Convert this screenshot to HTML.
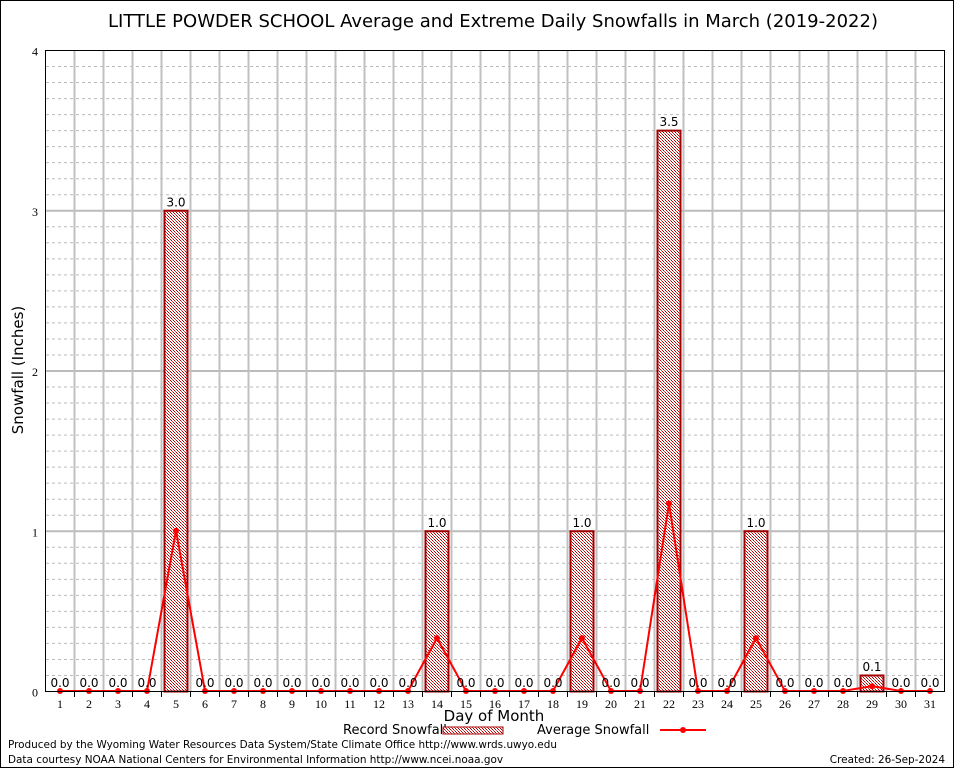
<!DOCTYPE html>
<html><head><meta charset="utf-8"><style>
body{margin:0;background:#fff}
svg{display:block}
text{font-family:"DejaVu Sans","Liberation Sans",sans-serif}
.tk{font-family:"Liberation Serif",serif;font-size:12px}
</style></head><body>
<svg id="c" width="954" height="768">
<defs><pattern id="chk" width="3" height="3" patternUnits="userSpaceOnUse"><rect width="3" height="3" fill="#fff"/><rect width="1" height="1" fill="#b00000"/><rect x="1" y="1" width="1" height="1" fill="#e04040"/><rect x="2" y="2" width="1" height="1" fill="#b00000"/></pattern></defs>
<rect x="0.5" y="0.5" width="953" height="767" fill="#fff" stroke="#000"/>
<text x="493" y="27" font-size="18" text-anchor="middle">LITTLE POWDER SCHOOL Average and Extreme Daily Snowfalls in March (2019-2022)</text>
<g id="grid"></g><g id="bars"></g><g id="avg"></g><g id="labels"></g>
<rect x="45.5" y="50.5" width="899" height="641" fill="none" stroke="#000"/>
<text transform="translate(23,370) rotate(-90)" font-size="15" text-anchor="middle">Snowfall (Inches)</text>
<text x="494" y="721" font-size="15" text-anchor="middle">Day of Month</text>
<g><text x="343" y="734" font-size="13">Record Snowfall</text><rect x="443" y="727" width="60" height="7" fill="url(#chk)" stroke="#a00000"/></g>
<g><text x="537" y="734" font-size="13">Average Snowfall</text><line x1="660" y1="730" x2="706" y2="730" stroke="#f00" stroke-width="2"/><circle cx="683" cy="730" r="3" fill="#f00"/></g>
<text x="8" y="748" font-size="10.45">Produced by the Wyoming Water Resources Data System/State Climate Office http://www.wrds.uwyo.edu</text>
<text x="8" y="763" font-size="10.45">Data courtesy NOAA National Centers for Environmental Information http://www.ncei.noaa.gov</text>
<text x="945" y="763" font-size="10.45" text-anchor="end">Created: 26-Sep-2024</text>
</svg>
<script>
const days=[1,2,3,4,5,6,7,8,9,10,11,12,13,14,15,16,17,18,19,20,21,22,23,24,25,26,27,28,29,30,31];
const recordVals=[0,0,0,0,3.0,0,0,0,0,0,0,0,0,1.0,0,0,0,0,1.0,0,0,3.5,0,0,1.0,0,0,0,0.1,0,0];
const avgVals=[0,0,0,0,1.0,0,0,0,0,0,0,0,0,0.33,0,0,0,0,0.33,0,0,1.17,0,0,0.33,0,0,0,0.03,0,0];
const yTicks=[0,1,2,3,4];
const NS='http://www.w3.org/2000/svg';
const X=d=>60+(d-1)*29, Y=v=>691-v*160.25;
function mk(p,t,a){const e=document.createElementNS(NS,t);for(const k in a)e.setAttribute(k,a[k]);p.appendChild(e);return e;}
const g=document.getElementById('grid');
for(let i=1;i<40;i++){if(i%10===0)continue;const y=Y(i/10)+0.5;const l=mk(g,'line',{x1:46,x2:944,y1:y,y2:y,stroke:'#bbb','stroke-dasharray':'3,3'});

}
yTicks.forEach(v=>{const y=Y(v)+0.5;if(v>0&&v<4){const l=mk(g,'line',{x1:46,x2:944,y1:y,y2:y,stroke:'#bbb','stroke-width':2});

}
const t=mk(g,'text',{x:38,y:y+5,'text-anchor':'end',class:'tk'});t.textContent=v;

});
for(let d=1;d<days.length;d++){const x=X(d)+14.5;const l=mk(g,'line',{x1:x,x2:x,y1:51,y2:691,stroke:'#c0c0c0','stroke-width':2});


const tk=mk(g,'line',{x1:x,x2:x,y1:691,y2:697,stroke:'#000'});

}
days.forEach(d=>{const t=mk(g,'text',{x:X(d),y:708,'text-anchor':'middle',class:'tk'});t.textContent=d;

});
const b=document.getElementById('bars'),lb=document.getElementById('labels');
days.forEach((d,i)=>{const v=recordVals[i];
if(v>0){const r=mk(b,'rect',{x:X(d)-11.5,y:Y(v)+0.5,width:23,height:Y(0)-Y(v),fill:'url(#chk)',stroke:'#a00000','stroke-width':2});

}
const t=mk(lb,'text',{x:X(d),y:Y(v)-4,'text-anchor':'middle','font-size':12});t.textContent=v.toFixed(1);

});
const a=document.getElementById('avg');
const pl=mk(a,'polyline',{points:days.map((d,i)=>X(d)+','+Y(avgVals[i])).join(' '),fill:'none',stroke:'#f00','stroke-width':2});


days.forEach((d,i)=>{const c=mk(a,'circle',{cx:X(d),cy:Y(avgVals[i]),r:3,fill:'#f00'});

});
</script>
</body></html>
